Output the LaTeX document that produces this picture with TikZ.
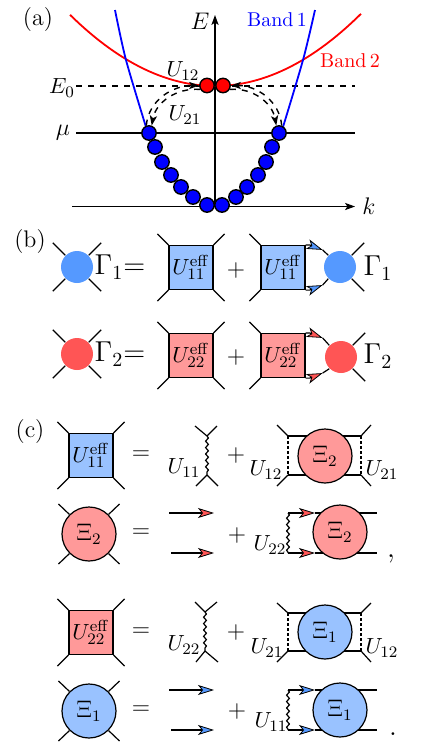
\documentclass[tikz,border=0pt]{standalone}
\usetikzlibrary{arrows.meta,decorations.pathmorphing}
\definecolor{lblue}{HTML}{99C2FF}
\definecolor{mblue}{HTML}{5599FF}
\definecolor{lred}{HTML}{FF9999}
\definecolor{mred}{HTML}{FF5555}
\begin{document}
\begin{tikzpicture}[>={Stealth[length=5pt,width=3.6pt,inset=1.2pt]}, x=.5pt, y=-.5pt, line width=.6pt,
  banddot/.style={circle, draw, line width=.7pt, fill=blue, inner sep=0, minimum size=7.2pt},
  reddot/.style={banddot, fill=red},
  vertexbox/.style={draw, inner sep=0, minimum size=22pt},
  blob/.style={circle, inner sep=0, minimum size=16pt},
  bigblob/.style={circle, draw, inner sep=0, minimum size=27pt},
  wavy/.style={decorate, decoration={snake, amplitude=.7pt, segment length=3.2pt}},
  ulabel/.style={inner sep=0, font=\fontsize{11}{13}\selectfont},
  bluetip/.style={-{Stealth[length=8pt,width=5pt,inset=2pt,line width=.4pt,fill=mblue]}},
  redtip/.style={-{Stealth[length=8pt,width=5pt,inset=2pt,line width=.4pt,fill=mred]}}]
\useasboundingbox (0,0) rectangle (436,756);

% panel a
\node (la) at (38,20){\large(a)};
\draw[dashed](76,86)--(355,86);
\draw(76,133)--(355,133);
\draw[->](72,206.5)--(355,206.5);
\draw[->](215,206.5)--(215,15);
\draw[domain=70:361, samples=60, red, line width=.9pt]plot(\x, {86-.00338*(\x-215)*(\x-215)});
\draw[blue, line width=.9pt]plot[smooth] coordinates{(115,10)(126,60)(146,127)};
\draw[blue, line width=.9pt]plot[smooth] coordinates{(315,10)(303,60)(283,127)};
\foreach \n/\x/\y in {1/149/133,2/155/147,3/162/162,4/171/175,5/181/187,6/193/197,7/207/205,
  8/222/205,9/236/197,10/247/187,11/258/175,12/266/162,13/272/147,14/279/133}
  \node[banddot] (d\n) at (\x,\y){};
\node[reddot] (r1) at (207,85.5){};
\node[reddot] (r2) at (223,85.5){};
\draw[->, dashed, line width=.7pt](d1.110) to[out=85, in=180] (r1.west);
\draw[->, dashed, line width=.7pt](r1.210) to[out=175, in=80] (d1.70);
\draw[->, dashed, line width=.7pt](d14.70) to[out=95, in=0] (r2.east);
\draw[->, dashed, line width=.7pt](r2.330) to[out=5, in=100] (d14.110);
\node (lE) at (200,21){\large$E$};
\node (lk) at (369,206){\large$k$};
\node[ulabel] (lE0) at (62,88){$E_0$};
\node (lmu) at (63,133){\large$\mu$};
\node[blue] (lband1) at (277,20){Band\,1};
\node[red] (lband2) at (350,61){Band\,2};
\node[ulabel] (lU12) at (183,71){$U_{12}$};
\node[ulabel] (lU21) at (185,115){$U_{21}$};

% panel b
\node (lb) at (30,242){\large(b)};
\node[blob, fill=mblue] (g1) at (77,267){};
\node[blob, fill=mred] (g2) at (77,354){};
\node[vertexbox, fill=lblue, ulabel] (u1) at (191,267.5){$U^{\mathrm{eff}}_{11}$};
\node[vertexbox, fill=lblue, ulabel] (u2) at (283,267.5){$U^{\mathrm{eff}}_{11}$};
\node[vertexbox, fill=lred, ulabel] (u3) at (191,355.5){$U^{\mathrm{eff}}_{22}$};
\node[vertexbox, fill=lred, ulabel] (u4) at (283,355.5){$U^{\mathrm{eff}}_{22}$};
\node[blob, fill=mblue] (g3) at (340,267){};
\node[blob, fill=mred] (g4) at (341,357){};
\foreach \c in {g1,g2}
  \draw(\c.45)--++(12.5,-12.5) (\c.135)--++(-12.5,-12.5) (\c.225)--++(-12.5,12.5) (\c.315)--++(12.5,12.5);
\foreach \c in {u1,u2,u3,u4}
  \draw(\c.north west)--++(-11,-11) (\c.south west)--++(-11,11);
\foreach \c in {u1,u3}
  \draw(\c.north east)--++(11,-11) (\c.south east)--++(11,11);
\foreach \c in {g3,g4}
  \draw(\c.45)--++(12.5,-12.5) (\c.315)--++(12.5,12.5);
\draw[bluetip](u2.north east)--++(4,0)--++(13,5) coordinate (t1);
\draw(t1)--(g3.135);
\draw[bluetip](u2.south east)--++(4,0)--++(13,-5) coordinate (t2);
\draw(t2)--(g3.225);
\draw[redtip](u4.north east)--++(4,0)--++(13,5) coordinate (t3);
\draw(t3)--(g4.135);
\draw[redtip](u4.south east)--++(4,0)--++(13,-5) coordinate (t4);
\draw(t4)--(g4.225);
\node (lg1) at (120,267){\Large$\Gamma_1$=};
\node (lg2) at (120,354){\Large$\Gamma_2$=};
\node (lg3) at (378,268){\Large$\Gamma_1$};
\node (lg4) at (378,356){\Large$\Gamma_2$};
\node (pl1) at (236,270){\large$+$};
\node (pl2) at (236,357){\large$+$};

% panel c
\node (lc) at (30,432){\large(c)};
\node[vertexbox, fill=lblue, ulabel] (v1) at (91,455.5){$U^{\mathrm{eff}}_{11}$};
\node[vertexbox, fill=lred, ulabel] (v2) at (91,632.5){$U^{\mathrm{eff}}_{22}$};
\foreach \c in {v1,v2}
  \draw(\c.north west)--++(-11,-11) (\c.north east)--++(11,-11) (\c.south west)--++(-11,11) (\c.south east)--++(11,11);
\node (eq1) at (141,455){\large$=$};
\node (eq2) at (141,533){\large$=$};
\node (eq3) at (141,632){\large$=$};
\node (eq4) at (141,710){\large$=$};
\node (pl3) at (236,455){\large$+$};
\node (pl4) at (237,535){\large$+$};
\node (pl5) at (236,632){\large$+$};
\node (pl6) at (237,711){\large$+$};

% bare interaction
\coordinate (w1) at (207,436);
\coordinate (w2) at (207,475);
\coordinate (w3) at (205,612);
\coordinate (w4) at (205,651);
\draw[wavy](w1)--(w2);
\draw[wavy](w3)--(w4);
\draw(w1)--++(-12,-10) (w1)--++(10,-10) (w2)--++(-11,11) (w2)--++(11,11);
\draw(w3)--++(-10,-10) (w3)--++(12,-10) (w4)--++(-9,11) (w4)--++(13,11);
\node[ulabel] (lw1) at (184,468){$U_{11}$};
\node[ulabel] (lw2) at (184,645){$U_{22}$};

% ladder with blob
\coordinate (a1) at (288,436);
\coordinate (a2) at (288,475);
\coordinate (a3) at (361,436);
\coordinate (a4) at (361,475);
\coordinate (b1) at (288,613);
\coordinate (b2) at (288,651);
\coordinate (b3) at (361,613);
\coordinate (b4) at (361,651);
\draw(a1)--(a3) (a2)--(a4) (b1)--(b3) (b2)--(b4);
\draw[dashed, line width=.8pt, dash pattern=on 1.5pt off 1pt](a1)--(a2);
\draw[dashed, line width=.8pt, dash pattern=on 1.5pt off 1pt](a3)--(a4);
\draw[dashed, line width=.8pt, dash pattern=on 1.5pt off 1pt](b1)--(b2);
\draw[dashed, line width=.8pt, dash pattern=on 1.5pt off 1pt](b3)--(b4);
\draw(a1)--++(-11,-11) (a2)--++(-11,11) (a3)--++(10,-11) (a4)--++(10,11);
\draw(b1)--++(-11,-10) (b2)--++(-11,11) (b3)--++(10,-10) (b4)--++(10,11);
\node[bigblob, fill=lred] (x1) at (325,456){\large$\Xi_2$};
\node[bigblob, fill=lblue] (x2) at (325,632){\large$\Xi_1$};
\node[ulabel] (l1) at (266,470){$U_{12}$};
\node[ulabel] (l2) at (382,470){$U_{21}$};
\node[ulabel] (l3) at (267,648){$U_{21}$};
\node[ulabel] (l4) at (382,648){$U_{12}$};

% free pair
\node[bigblob, fill=lred] (x3) at (89,534){\large$\Xi_2$};
\node[bigblob, fill=lblue] (x4) at (89,711){\large$\Xi_1$};
\foreach \c in {x3,x4}
  \draw(\c.45)--++(11,-10.5) (\c.135)--++(-11,-10.5) (\c.225)--++(-11,10.5) (\c.315)--++(11,10.5);
\coordinate (f1) at (169,513);
\coordinate (f2) at (214,513);
\coordinate (f3) at (171,553);
\coordinate (f4) at (214,553);
\coordinate (f5) at (169,690);
\coordinate (f6) at (214,690);
\coordinate (f7) at (171,730);
\coordinate (f8) at (214,730);
\draw[redtip](f1)--(f2);
\draw[redtip](f3)--(f4);
\draw[bluetip](f5)--(f6);
\draw[bluetip](f7)--(f8);

% ladder with free legs
\coordinate (c1) at (288,513);
\coordinate (c2) at (288,553);
\coordinate (c3) at (315,513);
\coordinate (c4) at (315,553);
\coordinate (c5) at (377,513);
\coordinate (c6) at (377,553);
\coordinate (e1) at (288,690);
\coordinate (e2) at (288,730);
\coordinate (e3) at (315,690);
\coordinate (e4) at (315,730);
\coordinate (e5) at (377,690);
\coordinate (e6) at (377,730);
\draw[wavy](c1)--(c2);
\draw[wavy](e1)--(e2);
\draw(c3)--(c5) (c4)--(c6) (e3)--(e5) (e4)--(e6);
\draw[redtip](c1)--(c3);
\draw[redtip](c2)--(c4);
\draw[bluetip](e1)--(e3);
\draw[bluetip](e2)--(e4);
\node[bigblob, fill=lred] (x5) at (340,532){\large$\Xi_2$};
\node[bigblob, fill=lblue] (x6) at (340,710){\large$\Xi_1$};
\node[ulabel] (l5) at (270,545){$U_{22}$};
\node[ulabel] (l6) at (271,722){$U_{11}$};
\node (comma) at (391,559){\Large,};
\node (dot) at (393,734){\Large.};
\end{tikzpicture}
\end{document}
